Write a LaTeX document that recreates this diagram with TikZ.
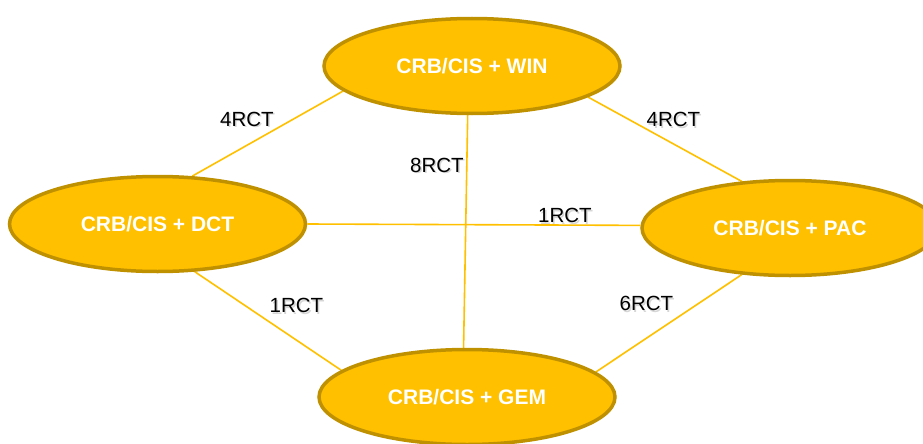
\documentclass[tikz,border=0pt]{standalone}
\usepackage{fontspec}
\setmainfont{Liberation Sans}
\usetikzlibrary{shapes.geometric,backgrounds}
\definecolor{gold}{HTML}{FFC000}
\definecolor{golddark}{HTML}{BF9000}
\newcommand{\shtext}[1]{\makebox[0pt][l]{\hspace{1.4pt}\raisebox{-1.6pt}{\color{black!16}#1}}#1}
\tikzset{
  trial/.style={ellipse, draw=golddark, fill=gold, line width=3.5pt,
    minimum width=296pt, minimum height=95pt, inner sep=0pt,
    text=white, font=\fontsize{21}{25}\selectfont\bfseries,
    text height=15pt, text depth=0pt},
  link/.style={draw=gold, line width=1.6pt},
  lbl/.style={font=\fontsize{20.5}{24}\selectfont, text=black, inner sep=0pt,
    text height=14.6pt, text depth=0pt}
}
\begin{document}
\begin{tikzpicture}[x=1pt,y=-1pt]
\useasboundingbox (0,0) rectangle (923,444);
\node[trial] (win) at (472,66) {CRB/CIS + WIN};
\node[trial] (dct) at (157.5,224) {CRB/CIS + DCT};
\node[trial] (pac) at (790,228) {CRB/CIS + PAC};
\node[trial] (gem) at (467,397) {CRB/CIS + GEM};
\begin{scope}[on background layer]
\path[link] (win.191) -- (dct.54);
\path[link] (win.345) -- (pac.136);
\path[link] (dct.0.8) -- (pac.179.2);
\path[link] (dct.308) -- (gem.168.6);
\path[link] (pac.224.4) -- (gem.11.3);
\path[link] (win.265.3) -- (gem.94.7);
\end{scope}
\node[lbl] (l1) at (247,119) {\shtext{4RCT}};
\node[lbl] (l2) at (437,165) {\shtext{8RCT}};
\node[lbl] (l3) at (673.5,119.5) {\shtext{4RCT}};
\node[lbl] (l4) at (565,215.5) {\shtext{1RCT}};
\node[lbl] (l5) at (296.5,305.5) {\shtext{1RCT}};
\node[lbl] (l6) at (646.5,303.5) {\shtext{6RCT}};
\end{tikzpicture}
\end{document}
